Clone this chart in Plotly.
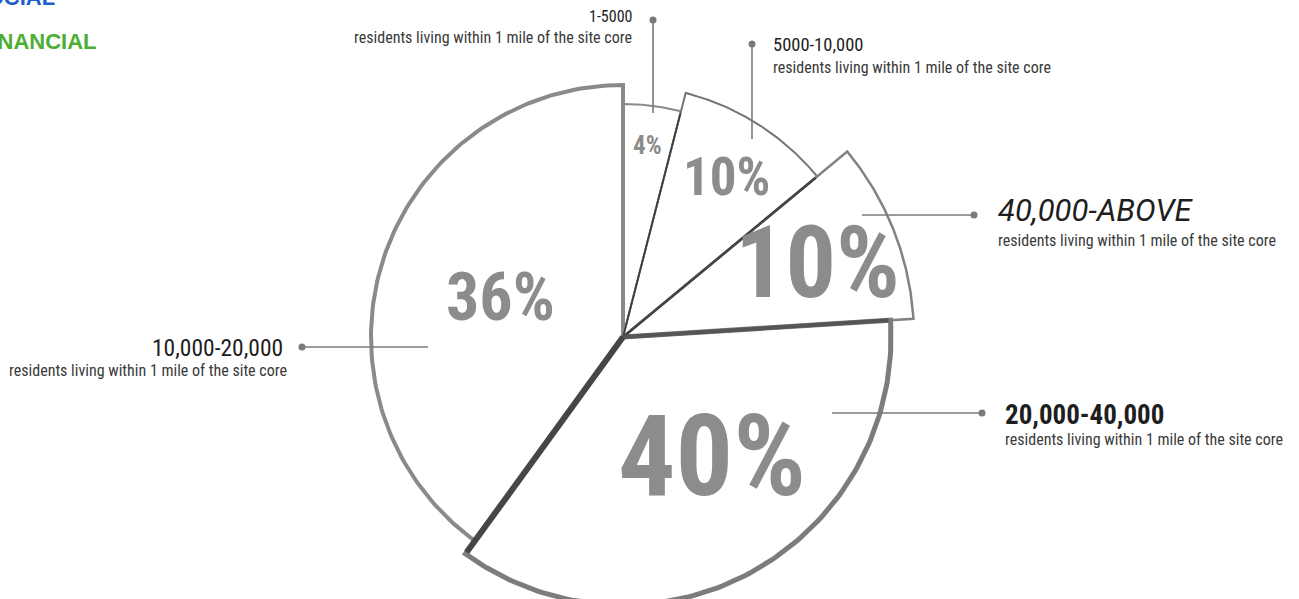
import numpy as np
import plotly.graph_objects as go

# ---------------- data ----------------
categories = ["1-5000", "5000-10,000", "40,000-ABOVE", "20,000-40,000", "10,000-20,000"]
pct_labels = ["4%", "10%", "10%", "40%", "36%"]
shares = [4, 10, 10, 36, 40]          # angular share of each wedge as drawn (clockwise from 12 o'clock)
subtitle = "residents living within 1 mile of the site core"
legend_titles = ["SOCIAL", "FINANCIAL"]

# ---------------- layout / style ----------------
W, H = 1299, 599
CX, CY = 623, 337
radii = [233, 252, 291, 268, 252]
outline_col = ["#8a8a8a", "#747474", "#828282", "#7c7c7c", "#8a8a8a"]
outline_w = [2, 2, 2.5, 5, 4]
NARROW = "Liberation Sans Narrow, Roboto Condensed, DejaVu Sans Condensed, Arial Narrow, sans-serif"
PCT_COL = "#8c8c8c"

edges = np.concatenate([[0], np.cumsum(shares)]) / np.sum(shares) * 360.0


def polar_pt(r, deg):
    t = np.deg2rad(deg)
    return CX + r * np.sin(t), CY - r * np.cos(t)


def wedge(i):
    th = np.linspace(edges[i], edges[i + 1], 120)
    ax, ay = polar_pt(radii[i], th)
    xs = np.concatenate([[CX], ax, [CX]])
    ys = np.concatenate([[CY], ay, [CY]])
    return xs, ys


fig = go.Figure()

# white fills
for i in range(len(shares)):
    xs, ys = wedge(i)
    fig.add_trace(go.Scatter(x=xs, y=ys, mode="lines", fill="toself", fillcolor="white",
                             line=dict(width=0), hoverinfo="skip", showlegend=False))
# outlines
for i in range(len(shares)):
    xs, ys = wedge(i)
    fig.add_trace(go.Scatter(x=xs, y=ys, mode="lines",
                             line=dict(color=outline_col[i], width=outline_w[i]),
                             hoverinfo="skip", showlegend=False))

# darker radial edges between slices
radial_style = [  # (edge index, reach radius index, colour, width)
    (1, 0, "#3c3c3c", 1.6),
    (2, 1, "#444444", 2.6),
    (3, 3, "#555555", 4),
    (4, 3, "#464646", 6),
]
for e, ri, col, w in radial_style:
    x1, y1 = polar_pt(radii[ri] - 2, edges[e])
    fig.add_trace(go.Scatter(x=[CX, x1], y=[CY, y1], mode="lines",
                             line=dict(color=col, width=w), hoverinfo="skip", showlegend=False))

# leader lines (dot -> inside slice)
leaders = [
    ((653, 20), (653, 113)),
    ((752, 44), (752, 139)),
    ((974, 215), (862, 215)),
    ((982, 413), (832, 413)),
    ((302, 347), (428, 347)),
]
for (d, e) in leaders:
    fig.add_trace(go.Scatter(x=[d[0], e[0]], y=[d[1], e[1]], mode="lines",
                             line=dict(color="#7a7a7a", width=1.6), hoverinfo="skip", showlegend=False))
fig.add_trace(go.Scatter(x=[d[0] for d, _ in leaders], y=[d[1] for d, _ in leaders], mode="markers",
                         marker=dict(color="#7a7a7a", size=7), hoverinfo="skip", showlegend=False))


def px(x):
    return x / W


def py(y):
    return 1 - y / H


def ann(text, x, y, size, color, family, xanchor="center", weight="normal", style="normal"):
    fig.add_annotation(text=text, x=px(x), y=py(y), xref="paper", yref="paper",
                       xanchor=xanchor, yanchor="middle", showarrow=False,
                       font=dict(size=size, color=color, family=family, weight=weight, style=style))


# percentage labels inside wedges
pct_pos = [(647, 145), (726, 177), (817, 262), (712, 456), (500, 297)]
pct_size = [25, 53, 100, 114, 66]
for t, (x, y), s in zip(pct_labels, pct_pos, pct_size):
    ann(t, x, y, s, PCT_COL, NARROW, weight="bold")

# category labels
head = [
    dict(x=634, y=16, size=16, xanchor="right", weight="normal", style="normal", fam=NARROW, sy=38, sx=634),
    dict(x=771, y=45, size=18.5, xanchor="left", weight="normal", style="normal", fam=NARROW, sy=67, sx=771),
    dict(x=996, y=211, size=31, xanchor="left", weight="normal", style="italic",
         fam="Roboto, Liberation Sans, sans-serif", sy=241, sx=996),
    dict(x=1003, y=415, size=27, xanchor="left", weight="bold", style="normal", fam=NARROW, sy=440, sx=1003),
    dict(x=285, y=348, size=23.5, xanchor="right", weight="normal", style="normal", fam=NARROW, sy=370, sx=289),
]
for cat, h in zip(categories, head):
    ann(cat, h["x"], h["y"], h["size"], "#1e1e1e", h["fam"], xanchor=h["xanchor"],
        weight=h["weight"], style=h["style"])
    ann(subtitle, h["sx"], h["sy"], 16, "#3a3a3a", NARROW, xanchor=h["xanchor"])

# cropped section titles at top-left
ann(legend_titles[0], 57, -3, 22, "#1b5fc9", "Liberation Sans, Arial, sans-serif", xanchor="right", weight="bold")
ann(legend_titles[1], 99, 42, 22, "#4cae32", "Liberation Sans, Arial, sans-serif", xanchor="right", weight="bold")

fig.update_layout(
    width=W, height=H, margin=dict(l=0, r=0, t=0, b=0),
    paper_bgcolor="white", plot_bgcolor="white",
    xaxis=dict(range=[0, W], visible=False, fixedrange=True),
    yaxis=dict(range=[H, 0], visible=False, fixedrange=True),
    showlegend=False,
)

fig.write_html("out.html", config={"displayModeBar": False},
               post_script="document.body.style.margin='0';document.body.style.overflow='hidden';")
